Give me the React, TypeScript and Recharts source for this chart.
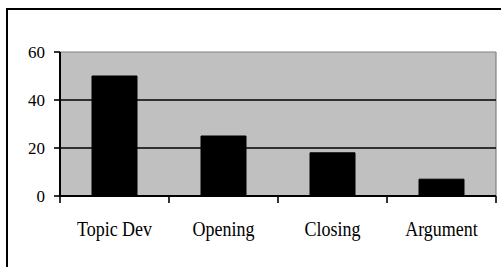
import React from "react";
import { BarChart, Bar, XAxis, YAxis, CartesianGrid, ReferenceLine } from "recharts";

const categories = ["Topic Dev", "Opening", "Closing", "Argument"];
const values = [50, 25, 18, 7];
const yTicks = [0, 20, 40, 60];
const boundaryTicks = [0, 1, 2, 3, 4];

const data = categories.map((c, i) => ({ name: c, value: values[i], pos: i + 0.5 }));

const FONT = "'Liberation Serif', 'Times New Roman', Times, serif";

const XLabel = (props: any) => {
  const { x, y, payload } = props;
  return (
    <g transform={`translate(${x},${y})`}>
      <text x={0} y={0} textAnchor="middle" style={{ fontFamily: FONT, fontSize: 18 }} fill="#000" transform="scale(1,1.15)" dy={24}>
        {payload.value}
      </text>
    </g>
  );
};

const YLabel = (props: any) => {
  const { x, y, payload } = props;
  return (
    <text x={x} y={y} dy={6} textAnchor="end" style={{ fontFamily: FONT, fontSize: 17 }} fill="#000">
      {payload.value}
    </text>
  );
};

const Empty = () => <g />;

export default function App() {
  return (
    <div style={{ position: "fixed", left: 0, top: 0, width: 501, height: 267, overflow: "hidden", background: "#fff", fontFamily: FONT }}>
      <div
        style={{
          position: "absolute",
          left: 6,
          top: 8,
          width: 700,
          height: 500,
          borderLeft: "2px solid #000",
          borderTop: "2px solid #000",
        }}
      />
      <div style={{ position: "absolute", left: 0, top: 0 }}>
        <BarChart width={501} height={267} data={data} margin={{ top: 52, right: 5, bottom: 30, left: 0 }}>
          <CartesianGrid xAxisId="b" yAxisId="y" fill="#c0c0c0" fillOpacity={1} vertical={false} horizontal={false} />
          <ReferenceLine yAxisId="y" xAxisId="b" y={60} stroke="#808080" strokeWidth={1.2} />
          <ReferenceLine yAxisId="y" xAxisId="a" x={4} stroke="#808080" strokeWidth={1.2} />
          <ReferenceLine yAxisId="y" xAxisId="b" y={20} stroke="#000" strokeWidth={1.6} />
          <ReferenceLine yAxisId="y" xAxisId="b" y={40} stroke="#000" strokeWidth={1.6} />
          <XAxis
            xAxisId="a"
            type="number"
            dataKey="pos"
            domain={[0, 4]}
            ticks={boundaryTicks}
            tick={<Empty />}
            tickSize={7}
            height={6}
            axisLine={{ stroke: "#000", strokeWidth: 2 }}
            tickLine={{ stroke: "#000", strokeWidth: 1.6 }}
          />
          <XAxis
            xAxisId="b"
            dataKey="name"
            type="category"
            axisLine={false}
            tickLine={false}
            tick={<XLabel />}
            tickMargin={0}
            height={35}
            interval={0}
          />
          <YAxis
            yAxisId="y"
            width={60}
            domain={[0, 60]}
            ticks={yTicks}
            tickSize={6}
            tickMargin={9}
            axisLine={{ stroke: "#000", strokeWidth: 2 }}
            tickLine={{ stroke: "#000", strokeWidth: 1.6 }}
            tick={<YLabel />}
          />
          <Bar xAxisId="b" yAxisId="y" dataKey="value" fill="#000" stroke="#000" barSize={45} isAnimationActive={false} />
        </BarChart>
      </div>
    </div>
  );
}
